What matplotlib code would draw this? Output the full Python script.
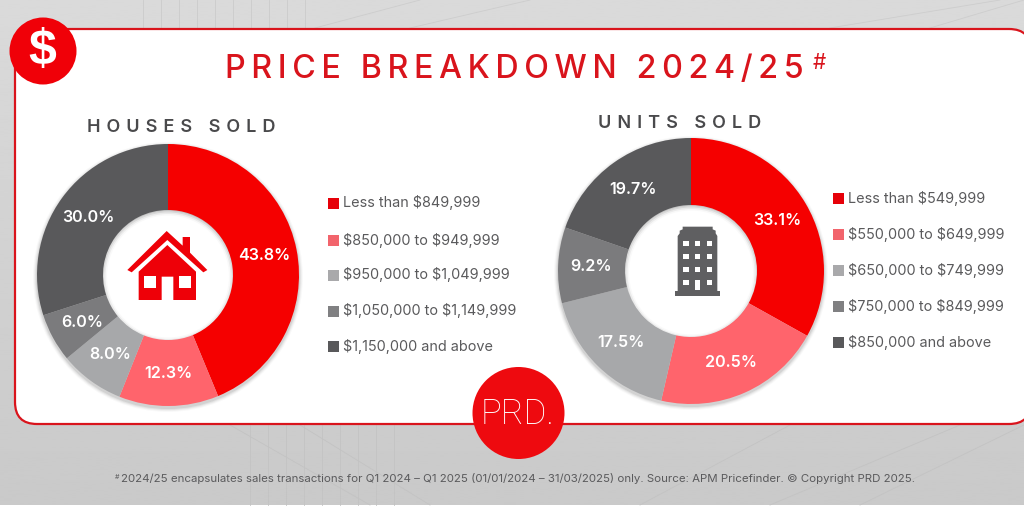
import numpy as np
import matplotlib
matplotlib.use("Agg")
import matplotlib.pyplot as plt
from matplotlib.patches import Circle, FancyBboxPatch, Polygon, Rectangle

W, H = 1024, 507
FONT = "Inter"

COLORS = ["#f50000", "#ff646c", "#a7a8aa", "#7b7b7d", "#59595b"]
LEGEND_COLORS = ["#e60009", "#f2646c", "#a9a9ab", "#808082", "#59595b"]
TEXT_GREY = "#5a5a5c"
RED = "#d9141c"

house_values = [43.8, 12.3, 8.0, 6.0, 30.0]
house_labels = ["Less than $849,999", "$850,000 to $949,999", "$950,000 to $1,049,999",
                "$1,050,000 to $1,149,999", "$1,150,000 and above"]
unit_values = [33.1, 20.5, 17.5, 9.2, 19.7]
unit_labels = ["Less than $549,999", "$550,000 to $649,999", "$650,000 to $749,999",
               "$750,000 to $849,999", "$850,000 and above"]

plt.rcParams["font.family"] = [FONT, "DejaVu Sans"]


def spaced(text, gap="\u2009"):
    """Letter-space a string with thin spaces."""
    return gap.join(text)


def draw_shadow(ax, cx, cy, r_out, r_in):
    """Soft drop shadow round a donut, and the one it throws into the hole."""
    for grow, alpha in [(4, 0.025), (3, 0.04), (2, 0.05), (1, 0.07)]:
        ax.add_patch(Circle((cx, cy + 2), r_out + grow, fc="black", ec="none", alpha=alpha, zorder=3))
    ax.add_patch(Circle((cx, cy), r_in + 2, fc="#c4c4c4", ec="none", zorder=4))
    for shrink, alpha in [(0, 0.35), (1.5, 0.5), (3, 0.7), (4.5, 1.0)]:
        ax.add_patch(Circle((cx, cy + 1.5), r_in - shrink + 0.5, fc="white", ec="none", alpha=alpha, zorder=4))


def draw_donut(fig, cx, cy, r_out, r_in, values):
    """One ring chart, placed by its centre and radius in pixels."""
    ax = fig.add_axes([(cx - r_out) / W, 1 - (cy + r_out) / H, 2 * r_out / W, 2 * r_out / H], zorder=2)
    ax.patch.set_alpha(0)
    wedges, _, autotexts = ax.pie(values, colors=COLORS, startangle=90, counterclock=False,
                                  radius=1, autopct="%.1f%%", pctdistance=0.75,
                                  wedgeprops=dict(width=1 - r_in / r_out, linewidth=0),
                                  textprops=dict(color="white", fontsize=11.6, fontweight="semibold"))
    ax.set_xlim(-1, 1)
    ax.set_ylim(-1, 1)
    return wedges, autotexts


def draw_legend(ax, x, y_positions, labels):
    for y, label, color in zip(y_positions, labels, LEGEND_COLORS):
        ax.add_patch(Rectangle((x, y - 5.5), 11, 11, fc=color, ec="none", zorder=5))
        ax.text(x + 15, y, label, fontsize=10.4, color=TEXT_GREY, va="center", ha="left",
                parse_math=False, zorder=5)


fig = plt.figure(figsize=(W / 100, H / 100), dpi=100, facecolor="white")
bg = fig.add_axes([0, 0, 1, 1], zorder=1)
bg.set_xlim(0, W)
bg.set_ylim(H, 0)
bg.axis("off")

# Backdrop with a slight top-to-bottom shade
shade = np.linspace(0.855, 0.79, 256)[:, None]
bg.imshow(shade, extent=[0, W, 505, 0], cmap="gray", vmin=0, vmax=1, aspect="auto", zorder=0)
bg.set_xlim(0, W)
bg.set_ylim(H, 0)

# Faint architectural line work
for x in range(143, 320, 18):
    bg.plot([x, x], [0, 28], color="#cbcbcb", lw=0.6, zorder=1)
for x0, x1 in [(315, 420), (410, 530), (830, 1000), (930, 1024)]:
    bg.plot([x0, x1], [28, 0], color="#cdcdcd", lw=0.6, zorder=1)
for x in range(250, 400, 18):
    bg.plot([x, x], [425, 505], color="#c3c3c3", lw=0.6, zorder=1)
for x0, x1 in [(230, 370), (300, 430), (790, 640), (960, 770), (1024, 860)]:
    bg.plot([x0, x1], [425, 505], color="#c3c3c3", lw=0.6, zorder=1)

# Main panel
bg.add_patch(FancyBboxPatch((15, 29), 1016, 395, boxstyle="round,pad=0,rounding_size=22",
                            fc="white", ec=RED, lw=1.6, zorder=2))

# Badges
bg.add_patch(Circle((43, 51), 33.5, fc="#f00008", ec="none", zorder=6))
bg.text(42, 51, "$", color="white", fontsize=36, fontweight="bold", ha="center", va="center",
        family=["Liberation Sans"], parse_math=False, zorder=7)
bg.add_patch(Circle((518.5, 413), 46, fc="#ee0a0f", ec="none", zorder=6))
bg.text(518, 414, "PRD.", color="white", fontsize=25, fontweight="light", ha="center", va="center",
        family=["Roboto"], zorder=7)

# Headings
bg.text(514, 69, spaced("PRICE BREAKDOWN 2024/25"), color=RED, fontsize=23.2, fontweight="medium",
        ha="center", va="center", zorder=5)
bg.text(819, 63, "#", color=RED, fontsize=15, ha="center", va="center", zorder=5)
bg.text(181, 128, spaced("HOUSES SOLD", "\u2009\u2009"), color="#4a4a4c", fontsize=13, fontweight="semibold",
        ha="center", va="center", zorder=5)
bg.text(680, 123, spaced("UNITS SOLD", "\u2009\u2009"), color="#4a4a4c", fontsize=13, fontweight="semibold",
        ha="center", va="center", zorder=5)

# Donuts
draw_shadow(bg, 168, 275, 131, 65)
draw_shadow(bg, 691, 271, 133, 66)
draw_donut(fig, 168, 275, 131, 65, house_values)
draw_donut(fig, 691, 271, 133, 66, unit_values)

# House icon, outline given on a 3x grid anchored at the icon corner
def house_pts(pts):
    return [(110 + x / 3, 215 + y / 3) for x, y in pts]


bg.add_patch(Polygon(house_pts([(52, 165), (170, 48), (218, 92), (218, 66), (240, 66), (240, 113),
                                (292, 165), (280, 172), (172, 75), (65, 172)]),
                     fc="#ee0008", ec="none", zorder=6))
bg.add_patch(Polygon(house_pts([(172, 90), (86, 170), (86, 255), (155, 255), (155, 185), (190, 185),
                                (190, 255), (258, 255), (258, 170)]),
                     fc="#ee0008", ec="none", zorder=6))
for x0 in (103, 207):
    bg.add_patch(Rectangle((110 + x0 / 3, 215 + 183 / 3), 35 / 3, 35 / 3, fc="white", ec="none", zorder=7))

# Apartment block icon
block = "#5f5f61"
bg.add_patch(Rectangle((512 + 488 / 3, 100 + 572 / 3), 137 / 3, 15 / 3, fc=block, ec="none", zorder=6))
bg.add_patch(Polygon([(512 + x / 3, 100 + y / 3) for x, y in
                      [(497, 575), (497, 408), (503, 400), (503, 392), (512, 388), (512, 380),
                       (602, 380), (602, 388), (611, 392), (611, 400), (616, 408), (616, 575)]],
                     fc=block, ec="none", zorder=6))
for row, y0 in enumerate((422, 461, 500, 540)):
    for col, x0 in enumerate((514, 549, 584)):
        tall = 30 if row == 3 and col == 1 else 15
        bg.add_patch(Rectangle((512 + x0 / 3, 100 + y0 / 3), 16 / 3, tall / 3, fc="white", ec="none", zorder=7))

# Legends
draw_legend(bg, 328, [203, 240, 275, 311, 346], house_labels)
draw_legend(bg, 833, [198, 234, 270, 306, 342], unit_labels)

# Footnote
bg.text(115, 477, "#", color=TEXT_GREY, fontsize=5, ha="left", va="center", zorder=5)
bg.text(121, 479, "2024/25 encapsulates sales transactions for Q1 2024 \u2013 Q1 2025 "
                  "(01/01/2024 \u2013 31/03/2025) only. Source: APM Pricefinder. \u00a9 Copyright PRD 2025.",
        color=TEXT_GREY, fontsize=8.25, ha="left", va="center", zorder=5)

fig.savefig("out.png", dpi=100)
